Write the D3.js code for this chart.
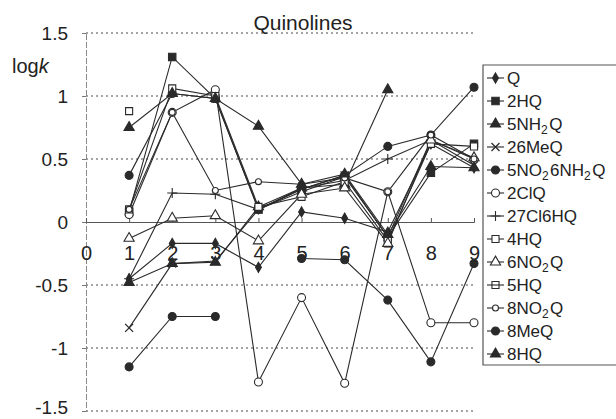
<!DOCTYPE html>
<html>
<head>
<meta charset="utf-8">
<script src="https://cdn.jsdelivr.net/npm/d3@7"></script>
<style>
  body { margin: 0; background: #fff; }
  text { font-family: "Liberation Sans", Arial, sans-serif; fill: #222; }
</style>
</head>
<body>
<div id="chart"></div>
<script>
// x positions and series (log k), null = no point
const xValues = [1, 2, 3, 4, 5, 6, 7, 8, 9];
const xTicks = [0, 1, 2, 3, 4, 5, 6, 7, 8, 9];
const yTicks = [-1.5, -1, -0.5, 0, 0.5, 1, 1.5];

const seriesNames = ['Q', '2HQ', '5NH2Q', '26MeQ', '5NO2 6NH2Q', '2ClQ', '27Cl6HQ',
  '4HQ', '6NO2Q', '5HQ', '8NO2Q', '8MeQ', '8HQ'];
const markers = ['diamond', 'square', 'triangle', 'cross', 'circle', 'ocircle', 'plus',
  'osquare', 'otriangle', 'xsquare', 'odiamond', 'circle', 'triangle'];

const Q        = [-0.45, -0.17, -0.17, -0.36, 0.08, 0.03, -0.08, 0.62, 0.43];
const HQ2      = [0.08, 1.31, 0.98, 0.10, 0.24, 0.36, -0.12, 0.39, 0.62];
const NH2Q5    = [-0.48, -0.33, -0.32, 0.12, 0.27, 0.30, 1.05, null, null];
const MeQ26    = [-0.84, -0.33, -0.31, 0.10, 0.26, 0.37, -0.12, 0.65, 0.45];
const NO2NH2Q  = [0.37, 1.02, 0.98, 0.10, 0.26, 0.37, 0.60, 0.69, 1.07];
const ClQ2     = [0.06, 0.87, 1.05, -1.27, -0.60, -1.28, 0.24, -0.80, -0.80];
const Cl6HQ27  = [-0.45, 0.23, 0.22, 0.10, 0.27, 0.33, 0.50, 0.65, 0.50];
const HQ4      = [0.10, 1.06, 1.00, 0.12, 0.20, 0.32, -0.15, 0.62, 0.60];
const NO2Q6    = [-0.13, 0.03, 0.05, -0.15, 0.22, 0.27, -0.17, 0.65, 0.51];
const HQ5      = [0.88, null, null, null, null, null, null, null, null];
const NO2Q8    = [0.10, 0.87, 0.25, 0.32, 0.30, 0.35, 0.24, 0.69, 0.50];
const MeQ8     = [-1.15, -0.75, -0.75, null, -0.29, -0.30, -0.62, -1.11, -0.33];
const HQ8      = [0.75, 1.02, 0.98, 0.76, 0.30, 0.38, -0.10, 0.44, 0.43];

const seriesValues = [Q, HQ2, NH2Q5, MeQ26, NO2NH2Q, ClQ2, Cl6HQ27, HQ4, NO2Q6, HQ5, NO2Q8, MeQ8, HQ8];

const W = 616, H = 419;
const svg = d3.select('#chart').append('svg')
  .attr('width', W)
  .attr('height', H);

const x = d3.scaleLinear().domain([0, 9]).range([86, 474]);
const y = d3.scaleLinear().domain([-1.5, 1.5]).range([411, 33]);
const ink = '#2a2a2a';

// dotted grid
svg.append('g')
  .selectAll('line')
  .data(yTicks.filter(d => d !== 0))
  .join('line')
  .attr('x1', x(0)).attr('x2', x(9))
  .attr('y1', d => y(d)).attr('y2', d => y(d))
  .attr('stroke', '#888')
  .attr('stroke-width', 1.3)
  .attr('stroke-dasharray', '2,3');

// y axis
const yAxis = svg.append('g')
  .attr('transform', `translate(${x(0)},0)`)
  .call(d3.axisLeft(y).tickValues(yTicks).tickSize(4).tickFormat(d => String(d)));
yAxis.select('.domain').attr('stroke', '#888').attr('stroke-dasharray', '6,2');
yAxis.selectAll('.tick line').attr('stroke', '#777');
yAxis.selectAll('.tick text')
  .attr('x', -18)
  .attr('font-size', 19)
  .attr('font-family', '"Liberation Sans", Arial, sans-serif')
  .attr('fill', '#333');
// keep the bottom label inside the frame
yAxis.selectAll('.tick text').filter(d => d === -1.5).attr('y', -4);

// x axis on the zero line
const xAxis = svg.append('g')
  .attr('transform', `translate(0,${y(0)})`)
  .call(d3.axisBottom(x).tickValues(xTicks).tickSize(-4).tickFormat(d => String(d)));
xAxis.select('.domain').attr('stroke', '#555');
xAxis.selectAll('.tick line').attr('stroke', '#555');
xAxis.selectAll('.tick text')
  .attr('y', 24)
  .attr('font-size', 20)
  .attr('font-family', '"Liberation Sans", Arial, sans-serif')
  .attr('fill', '#333');

// title and axis label
svg.append('text')
  .attr('x', 303).attr('y', 30)
  .attr('text-anchor', 'middle')
  .attr('font-size', 21)
  .text('Quinolines');

const ylab = svg.append('text')
  .attr('x', 12).attr('y', 73)
  .attr('font-size', 20);
ylab.append('tspan').text('log');
ylab.append('tspan').attr('font-style', 'italic').text('k');

// marker drawing
function drawMarker(g, type, cx, cy) {
  const sym = (t, size) => d3.symbol().type(t).size(size)();
  const m = g.append('path').attr('transform', `translate(${cx},${cy})`)
    .attr('stroke', ink).attr('stroke-width', 1.1);
  switch (type) {
    case 'diamond': m.attr('d', sym(d3.symbolDiamond, 30)).attr('fill', ink); break;
    case 'square': m.attr('d', sym(d3.symbolSquare, 55)).attr('fill', ink); break;
    case 'triangle': m.attr('d', sym(d3.symbolTriangle, 45)).attr('fill', ink); break;
    case 'cross': m.attr('d', 'M-4,-4L4,4M-4,4L4,-4').attr('fill', 'none').attr('stroke-width', 1.3); break;
    case 'circle': m.attr('d', sym(d3.symbolCircle, 50)).attr('fill', ink); break;
    case 'ocircle': m.attr('d', sym(d3.symbolCircle, 50)).attr('fill', '#fff'); break;
    case 'plus': m.attr('d', 'M-5,0L5,0M0,-5L0,5').attr('fill', 'none'); break;
    case 'osquare': m.attr('d', sym(d3.symbolSquare, 50)).attr('fill', '#fff'); break;
    case 'xsquare': m.attr('d', sym(d3.symbolSquare, 50)).attr('fill', 'none'); break;
    case 'otriangle': m.attr('d', sym(d3.symbolTriangle, 45)).attr('fill', '#fff'); break;
    case 'odiamond': m.attr('d', sym(d3.symbolCircle, 28)).attr('fill', '#fff'); break;
  }
}

// lines
const line = d3.line()
  .defined(d => d != null)
  .x((d, i) => x(xValues[i]))
  .y(d => y(d));

const plot = svg.append('g');
seriesValues.forEach(vals => {
  plot.append('path')
    .attr('d', line(vals))
    .attr('fill', 'none')
    .attr('stroke', ink)
    .attr('stroke-width', 1.1);
});
seriesValues.forEach((vals, s) => {
  vals.forEach((v, i) => {
    if (v != null) drawMarker(plot, markers[s], x(xValues[i]), y(v));
  });
});

// legend
const legend = svg.append('g');
legend.append('path')
  .attr('d', 'M625,65H483V365H625')
  .attr('fill', 'none')
  .attr('stroke', '#555')
  .attr('stroke-width', 1.2);

function legendLabel(t, name) {
  // subscript the 2 in NO2 / NH2
  const parts = name.split(/(?<=N[OH])2 ?/);
  parts.forEach((p, i) => {
    t.append('tspan').text(p);
    if (i < parts.length - 1) {
      t.append('tspan').attr('font-size', 12).attr('dy', 4).text('2');
      t.append('tspan').attr('dy', -4).text('\u200a');
    }
  });
}

seriesNames.forEach((name, i) => {
  const ly = 78 + i * 23;
  legend.append('line')
    .attr('x1', 487).attr('x2', 504)
    .attr('y1', ly).attr('y2', ly)
    .attr('stroke', ink).attr('stroke-width', 1.1);
  drawMarker(legend, markers[i], 495.5, ly);
  const t = legend.append('text')
    .attr('x', 507).attr('y', ly + 6)
    .attr('font-size', 17);
  legendLabel(t, name);
});
</script>
</body>
</html>
